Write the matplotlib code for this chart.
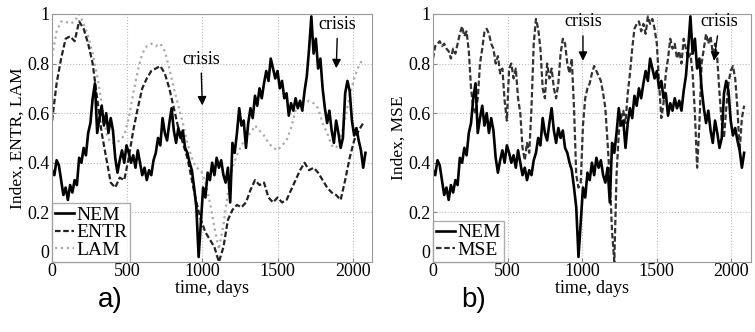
import numpy as np
import matplotlib
matplotlib.use("Agg")
import matplotlib.pyplot as plt

plt.rcParams['font.family'] = ['Liberation Serif', 'DejaVu Serif']
plt.rcParams['font.size'] = 13

# NEM index, one value every 15 days
nem = [0.37, 0.35, 0.41, 0.39, 0.33, 0.27, 0.30, 0.25, 0.31, 0.28,
       0.33, 0.31, 0.42, 0.40, 0.46, 0.43, 0.52, 0.56, 0.66, 0.72,
       0.52, 0.58, 0.63, 0.55, 0.60, 0.52, 0.58, 0.53, 0.42, 0.36,
       0.41, 0.45, 0.40, 0.47, 0.44, 0.40, 0.43, 0.38, 0.45, 0.40,
       0.35, 0.38, 0.33, 0.37, 0.35, 0.41, 0.44, 0.50, 0.47, 0.58,
       0.52, 0.49, 0.56, 0.62, 0.53, 0.48, 0.54, 0.50, 0.53, 0.46,
       0.44, 0.40, 0.37, 0.30, 0.22, 0.02, 0.16, 0.30, 0.26, 0.36,
       0.33, 0.40, 0.35, 0.42, 0.38, 0.41, 0.35, 0.32, 0.38, 0.24,
       0.48, 0.44, 0.52, 0.62, 0.55, 0.57, 0.46, 0.56, 0.62, 0.58,
       0.67, 0.63, 0.70, 0.66, 0.72, 0.77, 0.73, 0.82, 0.78, 0.74,
       0.77, 0.70, 0.73, 0.66, 0.68, 0.59, 0.64, 0.61, 0.66, 0.62,
       0.65, 0.61, 0.69, 0.75, 0.86, 0.99, 0.84, 0.90, 0.78, 0.82,
       0.70, 0.62, 0.56, 0.61, 0.53, 0.48, 0.57, 0.52, 0.46, 0.50,
       0.68, 0.73, 0.69, 0.57, 0.51, 0.54, 0.49, 0.45, 0.38, 0.44]

# MSE, one value every 15 days
mse = [0.82, 0.87, 0.88, 0.89, 0.87, 0.88, 0.86, 0.85, 0.82, 0.86,
       0.84, 0.88, 0.92, 0.95, 0.91, 0.93, 0.85, 0.70, 0.62, 0.60,
       0.66, 0.80, 0.86, 0.93, 0.94, 0.92, 0.88, 0.86, 0.80, 0.83,
       0.76, 0.78, 0.65, 0.57, 0.78, 0.80, 0.74, 0.78, 0.66, 0.60,
       0.46, 0.41, 0.48, 0.44, 0.62, 0.88, 0.98, 0.94, 0.86, 0.70,
       0.66, 0.80, 0.74, 0.78, 0.70, 0.66, 0.72, 0.84, 0.90, 0.88,
       0.80, 0.76, 0.82, 0.62, 0.35, 0.30, 0.32, 0.55, 0.66, 0.70,
       0.72, 0.76, 0.79, 0.77, 0.75, 0.73, 0.68, 0.62, 0.48, 0.33,
       0.12, 0.00, 0.35, 0.52, 0.58, 0.61, 0.56, 0.68, 0.76, 0.86,
       0.94, 0.96, 0.97, 0.93, 0.96, 0.92, 0.99, 0.96, 0.98, 0.94,
       0.88, 0.72, 0.58, 0.64, 0.76, 0.82, 0.90, 0.86, 0.88, 0.82,
       0.85, 0.80, 0.90, 0.86, 0.82, 0.84, 0.76, 0.60, 0.38, 0.55,
       0.80, 0.86, 0.92, 0.88, 0.91, 0.84, 0.88, 0.82, 0.68, 0.56,
       0.50, 0.62, 0.72, 0.77, 0.79, 0.74, 0.62, 0.45, 0.58, 0.63]

# ENTR and LAM, one value every 30 days
entr = [0.57, 0.72, 0.82, 0.90, 0.91, 0.89, 0.97, 0.94, 0.88, 0.80,
        0.66, 0.52, 0.42, 0.32, 0.30, 0.34, 0.33, 0.42, 0.53, 0.62,
        0.70, 0.74, 0.77, 0.78, 0.79, 0.76, 0.70, 0.62, 0.54, 0.48,
        0.42, 0.33, 0.24, 0.17, 0.12, 0.09, 0.06, 0.00, 0.06, 0.17,
        0.21, 0.23, 0.22, 0.24, 0.29, 0.33, 0.31, 0.32, 0.26, 0.24,
        0.26, 0.24, 0.25, 0.29, 0.33, 0.37, 0.40, 0.37, 0.38, 0.36,
        0.33, 0.30, 0.28, 0.27, 0.25, 0.33, 0.42, 0.49, 0.53, 0.56]

lam = [0.83, 0.93, 0.97, 0.97, 0.96, 0.97, 1.00, 0.96, 0.91, 0.84,
       0.75, 0.64, 0.52, 0.48, 0.48, 0.49, 0.51, 0.58, 0.68, 0.77,
       0.84, 0.87, 0.88, 0.87, 0.88, 0.85, 0.78, 0.70, 0.63, 0.56,
       0.48, 0.42, 0.38, 0.37, 0.32, 0.24, 0.14, 0.05, 0.15, 0.28,
       0.38, 0.43, 0.47, 0.50, 0.52, 0.55, 0.53, 0.51, 0.48, 0.46,
       0.45, 0.47, 0.49, 0.54, 0.61, 0.64, 0.64, 0.65, 0.64, 0.62,
       0.56, 0.52, 0.47, 0.46, 0.50, 0.58, 0.67, 0.74, 0.79, 0.82]

t15 = np.arange(len(nem)) * 15
t30 = np.arange(len(entr)) * 30

fig = plt.figure(figsize=(7.55, 3.32), dpi=100)
ax1 = fig.add_axes([0.069, 0.211, 0.424, 0.747])
ax2 = fig.add_axes([0.5735, 0.211, 0.421, 0.747])


def style(ax, ylab):
    ax.set_xlim(0, 2130)
    ax.set_ylim(0, 1)
    ax.set_xticks([0, 500, 1000, 1500, 2000])
    ax.set_yticks([0, 0.2, 0.4, 0.6, 0.8, 1])
    ax.set_yticklabels(["0", "0.2", "0.4", "0.6", "0.8", "1"])
    ax.grid(True, color="#bbbbbb", linestyle=":", linewidth=0.8)
    ax.tick_params(direction="in", length=3, color="#888888", pad=1, labelsize=13)
    ax.tick_params(axis="y", pad=2)
    # matlab style: the y "0" sits a bit higher than the x "0"
    ax.get_yticklabels()[0].set_verticalalignment("bottom")
    for s in ax.spines.values():
        s.set_color("#999999")
    ax.set_xlabel("time, days", labelpad=0, fontsize=13)
    ax.set_ylabel(ylab, labelpad=1, fontsize=12.5)


ax1.plot(t30, lam, color="#aaaaaa", linestyle=":", linewidth=1.6, label="LAM")
ax1.plot(t30, entr, color="#222222", linestyle="--", dashes=(2.5, 1.2), linewidth=1.6, label="ENTR")
ax1.plot(t15, nem, color="black", linewidth=1.9, label="NEM")
style(ax1, "Index, ENTR, LAM")
h, l = ax1.get_legend_handles_labels()
leg = ax1.legend(h[::-1], l[::-1], loc="lower left", handlelength=1.0, handletextpad=0.1,
                 borderpad=0.15, labelspacing=0.0, borderaxespad=0, fancybox=False,
                 fontsize=14)
leg.get_frame().set_edgecolor("#999999")
ax1.annotate("crisis", xy=(1000, 0.62), xytext=(990, 0.8), ha="center",
             arrowprops=dict(arrowstyle="-|>", color="black", lw=1))
ax1.annotate("crisis", xy=(1890, 0.77), xytext=(1900, 0.94), ha="center",
             arrowprops=dict(arrowstyle="-|>", color="black", lw=1))

ax2.plot(t15, mse, color="#333333", linestyle="--", dashes=(2.5, 1.2), linewidth=1.6, label="MSE")
ax2.plot(t15, nem, color="black", linewidth=1.9, label="NEM")
style(ax2, "Index, MSE")
h, l = ax2.get_legend_handles_labels()
leg = ax2.legend(h[::-1], l[::-1], loc="lower left", handlelength=1.0, handletextpad=0.1,
                 borderpad=0.15, labelspacing=0.0, borderaxespad=0, fancybox=False,
                 fontsize=14)
leg.get_frame().set_edgecolor("#999999")
ax2.annotate("crisis", xy=(1005, 0.80), xytext=(1005, 0.95), ha="center",
             arrowprops=dict(arrowstyle="-|>", color="black", lw=1))
ax2.annotate("crisis", xy=(1880, 0.80), xytext=(1920, 0.95), ha="center",
             arrowprops=dict(arrowstyle="-|>", color="black", lw=1))

fig.text(0.146, 0.095, "a)", fontsize=20, ha="center", va="center", family="Liberation Sans")
fig.text(0.627, 0.095, "b)", fontsize=20, ha="center", va="center", family="Liberation Sans")

fig.savefig("out.png", dpi=100)
